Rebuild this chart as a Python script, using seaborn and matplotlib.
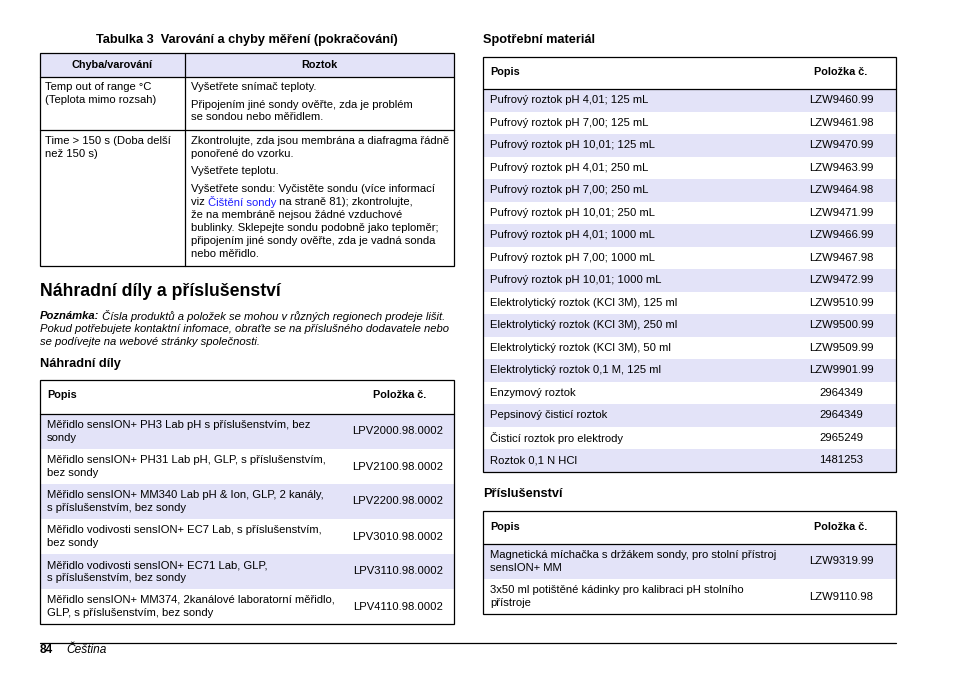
import matplotlib.pyplot as plt
from matplotlib.patches import Rectangle
import seaborn as sns

# ---- page content ----
table3_title = "Tabulka 3  Varování a chyby měření (pokračování)"
table3_headers = ["Chyba/varování", "Roztok"]
table3_errors = [
    ["Temp out of range °C", "(Teplota mimo rozsah)"],
    ["Time > 150 s (Doba delší", "než 150 s)"],
]
table3_fixes = [
    [["Vyšetřete snímač teploty."],
     ["Připojením jiné sondy ověřte, zda je problém", "se sondou nebo měřidlem."]],
    [["Zkontrolujte, zda jsou membrána a diafragma řádně", "ponořené do vzorku."],
     ["Vyšetřete teplotu."],
     ["Vyšetřete sondu: Vyčistěte sondu (více informací",
      ["viz ", "Čištění sondy", " na straně 81); zkontrolujte,"],
      "že na membráně nejsou žádné vzduchové",
      "bublinky. Sklepejte sondu podobně jako teploměr;",
      "připojením jiné sondy ověřte, zda je vadná sonda",
      "nebo měřidlo."]],
]

section_heading = "Náhradní díly a příslušenství"
note_label = "Poznámka:"
note_lines = [
    " Čísla produktů a položek se mohou v různých regionech prodeje lišit.",
    "Pokud potřebujete kontaktní infomace, obraťte se na příslušného dodavatele nebo",
    "se podívejte na webové stránky společnosti.",
]

parts_title = "Náhradní díly"
parts_desc = [
    ["Měřidlo sensION+ PH3 Lab pH s příslušenstvím, bez", "sondy"],
    ["Měřidlo sensION+ PH31 Lab pH, GLP, s příslušenstvím,", "bez sondy"],
    ["Měřidlo sensION+ MM340 Lab pH & Ion, GLP, 2 kanály,", "s příslušenstvím, bez sondy"],
    ["Měřidlo vodivosti sensION+ EC7 Lab, s příslušenstvím,", "bez sondy"],
    ["Měřidlo vodivosti sensION+ EC71 Lab, GLP,", "s příslušenstvím, bez sondy"],
    ["Měřidlo sensION+ MM374, 2kanálové laboratorní měřidlo,", "GLP, s příslušenstvím, bez sondy"],
]
parts_codes = ["LPV2000.98.0002", "LPV2100.98.0002", "LPV2200.98.0002",
               "LPV3010.98.0002", "LPV3110.98.0002", "LPV4110.98.0002"]

consum_title = "Spotřební materiál"
consum_desc = [
    "Pufrový roztok pH 4,01; 125 mL", "Pufrový roztok pH 7,00; 125 mL",
    "Pufrový roztok pH 10,01; 125 mL", "Pufrový roztok pH 4,01; 250 mL",
    "Pufrový roztok pH 7,00; 250 mL", "Pufrový roztok pH 10,01; 250 mL",
    "Pufrový roztok pH 4,01; 1000 mL", "Pufrový roztok pH 7,00; 1000 mL",
    "Pufrový roztok pH 10,01; 1000 mL", "Elektrolytický roztok (KCl 3M), 125 ml",
    "Elektrolytický roztok (KCl 3M), 250 ml", "Elektrolytický roztok (KCl 3M), 50 ml",
    "Elektrolytický roztok 0,1 M, 125 ml", "Enzymový roztok",
    "Pepsinový čisticí roztok", "Čisticí roztok pro elektrody", "Roztok 0,1 N HCl",
]
consum_codes = [
    "LZW9460.99", "LZW9461.98", "LZW9470.99", "LZW9463.99", "LZW9464.98",
    "LZW9471.99", "LZW9466.99", "LZW9467.98", "LZW9472.99", "LZW9510.99",
    "LZW9500.99", "LZW9509.99", "LZW9901.99", "2964349", "2964349",
    "2965249", "1481253",
]

acc_title = "Příslušenství"
acc_desc = [
    ["Magnetická míchačka s držákem sondy, pro stolní přístroj", "sensION+ MM"],
    ["3x50 ml potištěné kádinky pro kalibraci pH stolního", "přístroje"],
]
acc_codes = ["LZW9319.99", "LZW9110.98"]

col_headers = ["Popis", "Položka č."]
footer_page = "84"
footer_lang = "Čeština"

# ---- style ----
sns.set_theme(style="white")
plt.rcParams["font.family"] = ["Liberation Sans", "DejaVu Sans"]

FILL = "#e3e3f8"
LINK = "#1f1fff"
BODY = 8.1
HEAD = 7.8
SUB = 9.2
LW = 0.9

fig = plt.figure(figsize=(9.54, 6.73), dpi=100)
ax = fig.add_axes([0, 0, 1, 1])
ax.set_xlim(0, 954)
ax.set_ylim(673, 0)
ax.axis("off")
renderer = fig.canvas.get_renderer()


def txt(x, y, s, size=BODY, **kw):
    kw.setdefault("va", "center")
    return ax.text(x, y, s, fontsize=size, color=kw.pop("color", "black"), **kw)


def runs(x, y, parts, size=BODY):
    # place text pieces one after another on the same line
    for s, kw in parts:
        t = txt(x, y, s, size, **kw)
        x += t.get_window_extent(renderer).width


def box(x0, y0, x1, y1):
    ax.add_patch(Rectangle((x0, y0), x1 - x0, y1 - y0, fill=False,
                           edgecolor="black", lw=LW, zorder=3))


def hline(y, x0, x1):
    ax.plot([x0, x1], [y, y], color="black", lw=LW, zorder=3)


def fill(x0, y0, x1, y1):
    ax.add_patch(Rectangle((x0, y0), x1 - x0, y1 - y0, facecolor=FILL,
                           edgecolor="none", zorder=1))


# ---- Tabulka 3 ----
L0, L1, LDIV = 40, 454, 185
txt(247, 40, table3_title, SUB, ha="center", weight="bold")
fill(L0, 53, L1, 77)
txt((L0 + LDIV) / 2, 65, table3_headers[0], HEAD, ha="center", weight="bold")
txt((LDIV + L1) / 2, 65, table3_headers[1], HEAD, ha="center", weight="bold")
box(L0, 53, L1, 266)
hline(77, L0, L1)
hline(130, L0, L1)
ax.plot([LDIV, LDIV], [53, 266], color="black", lw=LW, zorder=3)

row_tops = [87, 141]
for top, err, fixes in zip(row_tops, table3_errors, table3_fixes):
    for i, line in enumerate(err):
        txt(45, top + 13 * i, line)
    y = top
    for para in fixes:
        for line in para:
            if isinstance(line, list):
                runs(191, y, [(line[0], {}), (line[1], {"color": LINK}), (line[2], {})])
            else:
                txt(191, y, line)
            y += 13
        y += 4.5

# ---- section heading and note ----
txt(40, 292, section_heading, 12.7, weight="bold")
runs(40, 316, [(note_label, {"weight": "bold", "style": "italic"}),
               (note_lines[0], {"style": "italic"})])
for i, line in enumerate(note_lines[1:]):
    txt(40, 329 + 13 * i, line, style="italic")

# ---- Náhradní díly ----
txt(40, 364, parts_title, SUB, weight="bold")
P_TOP, P_HEAD, P_ROW = 380, 414, 35
for i, (desc, code) in enumerate(zip(parts_desc, parts_codes)):
    y0 = P_HEAD + i * P_ROW
    if i % 2 == 0:
        fill(L0, y0, L1, y0 + P_ROW)
    yc = y0 + P_ROW / 2
    txt(47, yc - 6.5, desc[0])
    txt(47, yc + 6.5, desc[1])
    txt(398, yc, code, ha="center")
txt(47, 395, col_headers[0], HEAD, weight="bold")
txt(400, 395, col_headers[1], HEAD, ha="center", weight="bold")
box(L0, P_TOP, L1, P_HEAD + P_ROW * len(parts_desc))
hline(P_HEAD, L0, L1)

# ---- Spotřební materiál ----
R0, R1 = 483, 896
txt(R0, 40, consum_title, SUB, weight="bold")
C_TOP, C_HEAD, C_ROW = 57, 89, 22.5
for i, (desc, code) in enumerate(zip(consum_desc, consum_codes)):
    y0 = C_HEAD + i * C_ROW
    if i % 2 == 0:
        fill(R0, y0, R1, y0 + C_ROW)
    yc = y0 + C_ROW / 2
    txt(490, yc, desc)
    txt(841, yc, code, ha="center")
txt(490, 72, col_headers[0], HEAD, weight="bold")
txt(841, 72, col_headers[1], HEAD, ha="center", weight="bold")
box(R0, C_TOP, R1, C_HEAD + C_ROW * len(consum_desc))
hline(C_HEAD, R0, R1)

# ---- Příslušenství ----
txt(R0, 494, acc_title, SUB, weight="bold")
A_TOP, A_HEAD, A_ROW = 511, 544, 35
for i, (desc, code) in enumerate(zip(acc_desc, acc_codes)):
    y0 = A_HEAD + i * A_ROW
    if i % 2 == 0:
        fill(R0, y0, R1, y0 + A_ROW)
    yc = y0 + A_ROW / 2
    txt(490, yc - 6.5, desc[0])
    txt(490, yc + 6.5, desc[1])
    txt(841, yc, code, ha="center")
txt(490, 527, col_headers[0], HEAD, weight="bold")
txt(841, 527, col_headers[1], HEAD, ha="center", weight="bold")
box(R0, A_TOP, R1, A_HEAD + A_ROW * len(acc_desc))
hline(A_HEAD, R0, R1)

# ---- footer ----
hline(643, 40, 896)
txt(40, 650, footer_page, 8.6, weight="bold")
txt(66, 650, footer_lang, 8.6, style="italic")

fig.savefig("out.png", dpi=100, facecolor="white")
